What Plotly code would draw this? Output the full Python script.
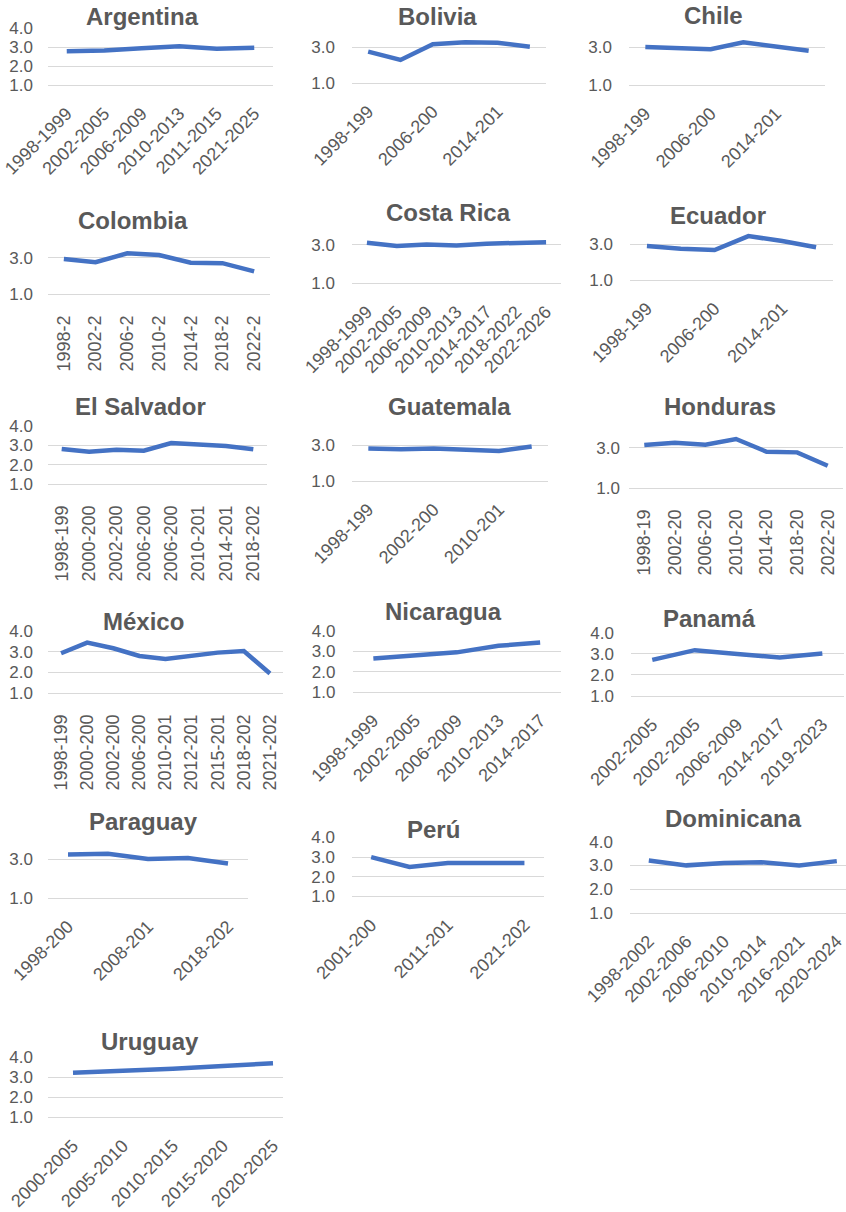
import plotly.graph_objects as go

W, H = 846, 1212

# ---------------- data ----------------
argentina_ticks = ["1998-1999", "2002-2005", "2006-2009", "2010-2013", "2011-2015", "2021-2025"]
argentina_values = [2.79, 2.83, 2.95, 3.05, 2.92, 2.97]

bolivia_ticks = ["1998-199", "2006-200", "2014-201"]
bolivia_values = [2.74, 2.28, 3.15, 3.26, 3.24, 3.02]

chile_ticks = ["1998-199", "2006-200", "2014-201"]
chile_values = [3.0, 2.95, 2.88, 3.25, 3.0, 2.8]

colombia_ticks = ["1998-2", "2002-2", "2006-2", "2010-2", "2014-2", "2018-2", "2022-2"]
colombia_values = [2.93, 2.75, 3.24, 3.15, 2.73, 2.7, 2.25]

costarica_ticks = ["1998-1999", "2002-2005", "2006-2009", "2010-2013", "2014-2017", "2018-2022", "2022-2026"]
costarica_values = [3.12, 2.95, 3.02, 2.97, 3.07, 3.13, 3.14]

ecuador_ticks = ["1998-199", "2006-200", "2014-201"]
ecuador_values = [2.9, 2.75, 2.68, 3.46, 3.18, 2.83]

elsalvador_ticks = ["1998-199", "2000-200", "2002-200", "2006-200", "2006-200", "2010-201", "2014-201", "2018-202"]
elsalvador_values = [2.82, 2.67, 2.78, 2.73, 3.12, 3.04, 2.97, 2.8]

guatemala_ticks = ["1998-199", "2002-200", "2010-201"]
guatemala_values = [2.8, 2.76, 2.8, 2.72, 2.67, 2.92]

honduras_ticks = ["1998-19", "2002-20", "2006-20", "2010-20", "2014-20", "2018-20", "2022-20"]
honduras_values = [3.13, 3.25, 3.15, 3.43, 2.8, 2.77, 2.11]

mexico_ticks = ["1998-199", "2000-200", "2002-200", "2006-200", "2010-201", "2012-201", "2015-201", "2018-202", "2021-202"]
mexico_values = [2.92, 3.43, 3.16, 2.79, 2.65, 2.81, 2.95, 3.03, 1.95]

nicaragua_ticks = ["1998-1999", "2002-2005", "2006-2009", "2010-2013", "2014-2017"]
nicaragua_values = [2.65, 2.82, 2.95, 3.27, 3.43]

panama_ticks = ["2002-2005", "2002-2005", "2006-2009", "2014-2017", "2019-2023"]
panama_values = [2.72, 3.18, 3.0, 2.83, 3.02]

paraguay_ticks = ["1998-200", "2008-201", "2018-202"]
paraguay_values = [3.23, 3.27, 3.0, 3.05, 2.77]

peru_ticks = ["2001-200", "2011-201", "2021-202"]
peru_values = [3.0, 2.5, 2.7, 2.68, 2.7]

dominicana_ticks = ["1998-2002", "2002-2006", "2006-2010", "2010-2014", "2016-2021", "2020-2024"]
dominicana_values = [3.21, 3.0, 3.1, 3.13, 3.0, 3.18]

uruguay_ticks = ["2000-2005", "2005-2010", "2010-2015", "2015-2020", "2020-2025"]
uruguay_values = [3.23, 3.32, 3.43, 3.57, 3.7]

# ---------------- layout of panels (pixel geometry) ----------------
FULL = [1, 2, 3, 4]
HALF = [1, 3]
# name, values, ticks, label step, angle, x0, x1, y(4.0), y(1.0), title x, title y, y ticks, x max, y label gap
panels = [
    ("Argentina", argentina_values, argentina_ticks, 1, -45, 48, 273, 28.3, 85, 142, 17, FULL, None, 14),
    ("Bolivia", bolivia_values, bolivia_ticks, 2, -45, 352, 546, 29, 83, 437, 17, HALF, None, 16),
    ("Chile", chile_values, chile_ticks, 2, -45, 629, 825, 28, 85, 713, 15, HALF, None, 16),
    ("Colombia", colombia_values, colombia_ticks, 1, -90, 48, 270, 239.4, 294.3, 133, 220.7, HALF, None, 14),
    ("Costa Rica", costarica_values, costarica_ticks, 1, -45, 352, 561, 225.8, 283.3, 448, 212.7, HALF, None, 16),
    ("Ecuador", ecuador_values, ecuador_ticks, 2, -45, 630, 833, 226.4, 280, 718, 215, HALF, None, 16),
    ("El Salvador", elsalvador_values, elsalvador_ticks, 1, -90, 48, 267, 426, 484.3, 140, 406, FULL, None, 14),
    ("Guatemala", guatemala_values, guatemala_ticks, 2, -45, 352, 548, 427, 481, 449, 407, HALF, None, 16),
    ("Honduras", honduras_values, honduras_ticks, 1, -90, 629, 843, 427.4, 488.3, 720, 406.7, HALF, None, 8),
    ("México", mexico_values, mexico_ticks, 1, -90, 48, 283, 630.7, 693.3, 143, 621.7, FULL, None, 14),
    ("Nicaragua", nicaragua_values, nicaragua_ticks, 1, -45, 352.5, 561, 631, 692, 443.6, 611.4, FULL, None, 16),
    ("Panamá", panama_values, panama_ticks, 1, -45, 631, 843.6, 632.9, 696, 709.6, 618.6, FULL, None, 16),
    ("Paraguay", paraguay_values, paraguay_ticks, 2, -45, 48, 248, 839.5, 898, 143, 821.4, HALF, None, 14),
    ("Perú", peru_values, peru_ticks, 2, -45, 352, 543.6, 837.5, 896.4, 434, 829, FULL, None, 16),
    ("Dominicana", dominicana_values, dominicana_ticks, 1, -45, 630, 846, 841.7, 912.7, 733, 818, FULL, 5.245, 16),
    ("Uruguay", uruguay_values, uruguay_ticks, 1, -45, 48, 283, 1057.3, 1117.3, 150, 1041.7, FULL, 4.2, 14),
]

FONT = "Liberation Sans, Arial, Helvetica, sans-serif"
GRAY = "#595959"
GRID = "#D9D9D9"
BLUE = "#4472C4"

fig = go.Figure()
layout = dict(
    template="none",
    width=W, height=H,
    margin=dict(l=0, r=0, t=0, b=0, pad=0, autoexpand=False),
    paper_bgcolor="white", plot_bgcolor="white",
    showlegend=False,
    font=dict(family=FONT, color=GRAY),
    annotations=[],
)

for i, (name, vals, ticks, step, angle, x0, x1, y4, y1, tx, ty, ytv, xmax, ygap) in enumerate(panels):
    k = "" if i == 0 else str(i + 1)
    n = len(vals)
    fig.add_trace(go.Scatter(
        x=list(range(n)), y=vals, mode="lines",
        line=dict(color=BLUE, width=4.5),
        xaxis="x" + k, yaxis="y" + k, hoverinfo="skip",
    ))
    layout["xaxis" + k] = dict(
        domain=[x0 / W, min(x1 / W, 1.0)],
        range=[-0.5, xmax if xmax is not None else n - 0.5],
        anchor="y" + k,
        automargin=False,
        tickmode="array",
        tickvals=list(range(0, n, step))[:len(ticks)],
        ticktext=ticks,
        tickangle=angle,
        tickfont=dict(size=18, color=GRAY, family=FONT),
        showgrid=False, zeroline=False,
        showline=True, linecolor=GRID, linewidth=1,
        ticks="", ticklabelstandoff=10 if angle == -45 else 13,
        fixedrange=True,
    )
    layout["yaxis" + k] = dict(
        domain=[1 - y1 / H, 1 - y4 / H],
        range=[0.999, 4.001],
        anchor="x" + k,
        automargin=False,
        tickmode="array",
        tickvals=ytv,
        ticktext=["%.1f" % v for v in ytv],
        tickfont=dict(size=17, color=GRAY, family=FONT),
        showgrid=True, gridcolor=GRID, gridwidth=1,
        zeroline=False, showline=False,
        ticks="", ticklabelstandoff=ygap,
        fixedrange=True,
    )
    layout["annotations"].append(dict(
        text="<b>%s</b>" % name, xref="paper", yref="paper",
        x=tx / W, y=1 - ty / H, xanchor="center", yanchor="middle",
        showarrow=False, font=dict(size=24, color=GRAY, family=FONT),
    ))

fig.update_layout(**layout)
fig.write_html("out.html")
